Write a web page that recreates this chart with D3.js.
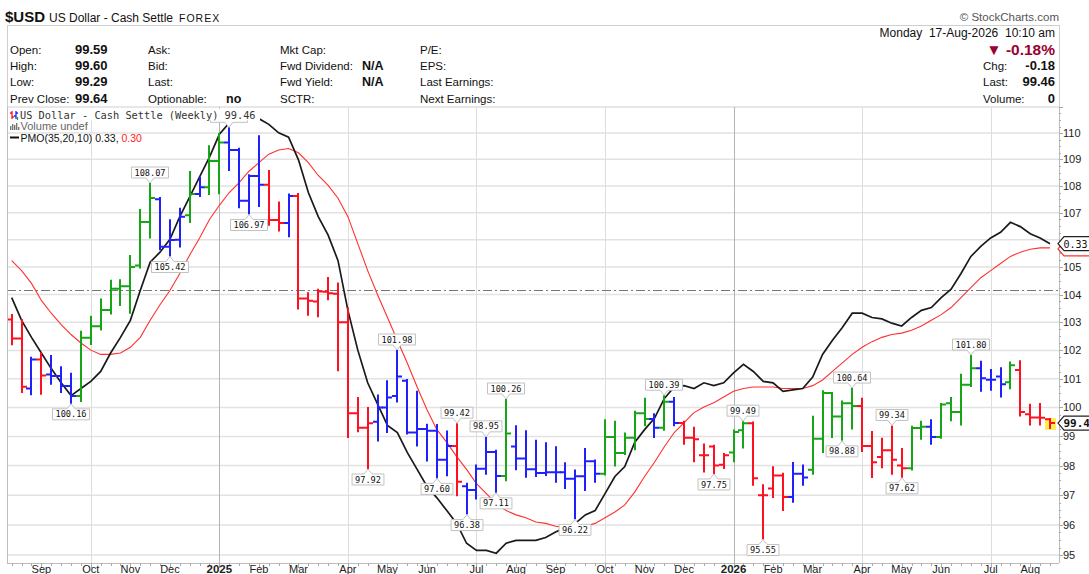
<!DOCTYPE html>
<html><head><meta charset="utf-8">
<script src="https://cdn.jsdelivr.net/npm/d3@7"></script>
<style>
body{margin:0;background:#fff}
svg{display:block;font-family:"Liberation Sans",Arial,sans-serif}
</style>
</head><body>
<svg id="c" width="1089" height="574"></svg>
<script>
// ---------------- DATA ----------------
const startWeek = new Date(2024, 7, 12);   // first weekly bar (Monday)
const endWeek   = new Date(2026, 7, 17);   // last weekly bar (Monday)

const openP = [103.10,102.42,100.66,101.68,101.15,101.10,100.75,100.40,102.45,102.86,
103.44,104.21,104.30,105.05,106.65,107.50,105.74,106.00,106.90,107.70,
107.95,108.94,109.64,109.35,107.44,108.37,108.04,106.73,106.62,107.62,
103.86,103.75,104.10,104.03,103.00,99.80,99.30,99.50,100.00,100.40,
100.93,99.13,99.25,99.19,98.20,98.67,97.30,97.17,97.89,98.46,
97.65,98.65,98.24,97.88,97.75,97.77,97.77,97.55,97.64,98.15,
97.72,98.98,98.43,98.95,99.80,99.60,99.30,100.20,99.46,98.95,
98.35,98.65,98.03,98.45,99.21,99.45,97.00,97.22,97.66,96.94,
97.72,97.86,98.92,100.50,99.69,100.15,100.05,98.67,98.29,98.52,
98.00,97.91,99.29,99.33,98.98,100.15,99.84,100.79,101.37,100.97,
101.08,100.88,101.31,99.76,99.65,99.59];

const highP = [103.26,103.08,101.74,101.89,101.80,101.41,101.18,102.66,103.20,103.82,
104.50,104.52,105.40,107.10,108.07,107.55,106.72,107.15,108.52,108.30,
109.50,109.96,110.18,109.40,108.40,109.88,108.56,107.38,107.68,107.70,
104.05,104.17,104.60,104.40,103.50,100.33,99.98,100.42,100.91,101.98,
100.96,100.55,99.40,99.39,99.17,99.42,97.38,98.00,98.95,98.51,
100.26,99.35,99.18,98.85,98.76,98.63,98.08,97.83,98.57,98.17,
99.56,99.50,99.10,99.85,100.30,99.76,100.39,100.33,99.50,99.30,
98.72,98.68,98.40,99.20,99.49,99.48,97.33,97.94,97.72,98.09,
98.00,99.68,100.56,100.50,100.21,100.64,100.30,99.15,98.92,99.34,
98.57,99.33,99.50,99.56,100.12,100.33,101.14,101.80,101.60,101.31,
101.37,101.57,101.62,100.09,100.12,99.60];

const lowP = [102.22,100.54,100.46,100.48,100.83,100.54,100.16,100.22,102.23,102.74,
103.32,103.62,103.34,104.98,106.08,105.65,105.42,105.75,106.65,107.62,
107.70,107.72,108.60,107.20,106.97,107.25,106.55,106.34,106.13,103.50,
103.27,103.22,103.83,101.30,98.98,99.18,97.92,98.86,99.15,100.21,
99.10,98.69,98.17,97.60,97.67,97.00,96.38,96.89,97.72,97.11,
97.50,97.88,97.62,97.65,97.68,97.45,97.24,96.22,97.17,97.45,
97.70,98.00,98.40,98.56,99.38,98.98,99.23,99.38,98.75,98.15,
97.80,97.75,97.92,98.15,98.62,97.35,95.55,96.94,96.50,96.78,
97.35,97.72,98.46,98.98,98.88,99.27,98.50,97.61,97.94,97.72,
97.62,97.87,98.92,98.75,98.95,99.56,99.41,100.75,100.58,100.62,
100.38,100.67,99.72,99.41,99.41,99.29];

const closeP = [102.42,100.72,101.68,101.12,101.10,100.75,100.40,102.45,102.86,103.44,
104.21,104.30,105.00,106.65,107.55,105.74,105.99,106.85,107.70,107.95,
108.94,109.64,109.35,107.44,108.37,108.04,106.73,106.62,107.62,103.86,
103.78,104.11,104.05,103.00,99.80,99.30,99.45,100.00,100.35,101.08,
99.13,99.25,99.19,98.20,98.67,97.45,97.17,97.89,98.46,97.65,
99.10,98.24,97.88,97.75,97.77,97.77,97.55,97.64,98.15,97.72,
98.98,98.43,98.95,99.80,99.60,99.30,100.20,99.46,98.95,98.90,
98.35,98.00,98.35,99.15,99.45,97.57,97.00,97.66,96.94,97.72,
97.60,98.92,100.50,99.69,100.15,100.05,98.67,98.11,98.52,98.20,
97.91,99.29,99.33,98.98,100.10,99.84,100.79,101.37,101.02,100.97,
100.81,101.48,99.84,99.65,99.64,99.46];

// Elder impulse state per bar: 1 = bullish, -1 = bearish, 0 = neutral
const impulse = [-1,-1,0,-1,0,0,0,1,1,1,
1,1,1,1,1,0,0,0,1,0,
1,1,0,0,0,0,-1,-1,0,-1,
-1,-1,-1,-1,-1,-1,-1,0,0,0,
0,0,0,0,0,-1,0,0,0,0,
1,0,0,0,0,0,0,0,0,0,
1,1,1,1,1,0,1,0,-1,-1,
-1,-1,-1,1,1,-1,-1,-1,-1,0,
0,1,1,1,1,1,-1,-1,-1,-1,
-1,1,1,0,1,1,1,1,0,0,
0,1,-1,-1,-1,-1];

const pmo = [-0.05,-0.21,-0.33,-0.44,-0.55,-0.65,-0.74,-0.69,-0.64,-0.57,
-0.44,-0.33,-0.21,0.00,0.20,0.27,0.36,0.52,0.66,0.80,
0.94,1.10,1.18,1.21,1.22,1.21,1.17,1.11,1.08,0.92,
0.69,0.52,0.39,0.21,-0.14,-0.42,-0.65,-0.80,-0.95,-1.00,
-1.14,-1.26,-1.38,-1.46,-1.55,-1.64,-1.78,-1.83,-1.83,-1.85,
-1.78,-1.76,-1.76,-1.76,-1.74,-1.70,-1.67,-1.64,-1.58,-1.55,
-1.43,-1.31,-1.24,-1.07,-0.98,-0.90,-0.76,-0.68,-0.67,-0.69,
-0.65,-0.67,-0.65,-0.58,-0.52,-0.57,-0.64,-0.65,-0.71,-0.70,
-0.69,-0.61,-0.45,-0.35,-0.26,-0.16,-0.16,-0.19,-0.20,-0.23,
-0.25,-0.19,-0.14,-0.12,-0.05,0.01,0.12,0.24,0.31,0.37,
0.41,0.48,0.45,0.40,0.37,0.33];

const pmoSignal = [0.21,0.14,0.05,-0.07,-0.16,-0.24,-0.31,-0.37,-0.42,-0.45,
-0.45,-0.44,-0.40,-0.33,-0.21,-0.10,0.00,0.12,0.25,0.37,
0.50,0.60,0.69,0.76,0.84,0.90,0.96,0.99,1.00,0.97,
0.90,0.81,0.74,0.65,0.52,0.33,0.14,-0.03,-0.19,-0.35,
-0.51,-0.68,-0.84,-0.98,-1.07,-1.17,-1.26,-1.36,-1.43,-1.50,
-1.55,-1.58,-1.60,-1.63,-1.64,-1.66,-1.67,-1.67,-1.66,-1.64,
-1.60,-1.56,-1.51,-1.42,-1.31,-1.21,-1.10,-1.00,-0.93,-0.86,
-0.82,-0.79,-0.75,-0.71,-0.69,-0.68,-0.68,-0.68,-0.69,-0.69,
-0.69,-0.67,-0.63,-0.57,-0.51,-0.45,-0.40,-0.36,-0.33,-0.31,
-0.30,-0.28,-0.25,-0.21,-0.17,-0.12,-0.05,0.02,0.09,0.14,
0.19,0.24,0.27,0.29,0.30,0.30];

const monthLabels = ["Sep","Oct","Nov","Dec","2025","Feb","Mar","Apr","May","Jun","Jul","Aug",
                     "Sep","Oct","Nov","Dec","2026","Feb","Mar","Apr","May","Jun","Jul","Aug"];
const priceTicks = [95,96,97,98,99,100,101,102,103,104,105,106,107,108,109,110];
const highLabelBars = [14,22,39,45,48,50,66,74,85,89,97];
const lowLabelBars  = [6,16,24,36,43,46,49,57,71,76,84,90];

const infoLeft = [
  ["Open:","99.59"],["High:","99.60"],["Low:","99.29"],["Prev Close:","99.64"]];
const infoCol2 = ["Ask:","Bid:","Last:","Optionable:"];
const infoCol3 = ["Mkt Cap:","Fwd Dividend:","Fwd Yield:","SCTR:"];
const infoCol4 = ["P/E:","EPS:","Last Earnings:","Next Earnings:"];
const infoRight = [["Chg:","-0.18"],["Last:","99.46"],["Volume:","0"]];

// ---------------- LAYOUT ----------------
const MONO = "'DejaVu Sans Mono', monospace";
const svg = d3.select("#c");
const L = 7, R = 1059, T = 107, B = 563;
const LEGEND_BOTTOM = 121;
const weeks = d3.timeMonday.range(startWeek, d3.timeDay.offset(endWeek, 1));
const HOUR = 36e5;
const x = d3.scaleTime()
  .domain([new Date(+startWeek - 80*HOUR), new Date(+endWeek + 153*HOUR)])
  .range([L, R]);
const y = d3.scaleLog().domain([94.74, 111.0]).range([B, T]);
const yP = d3.scaleLinear().domain([-2, 2]).range([290.5 + 284, 290.5 - 284]);
const colorOf = d3.scaleOrdinal().domain([1, 0, -1]).range(["#16a516", "#2020ff", "#ff1020"]);

// ---------------- HEADER ----------------
const hdr = svg.append("g");
hdr.append("text").attr("x", 5).attr("y", 22).attr("font-size", 15).attr("font-weight", "bold").attr("fill", "#111").text("$USD");
hdr.append("text").attr("x", 49).attr("y", 22).attr("font-size", 12).attr("fill", "#111").text("US Dollar - Cash Settle");
hdr.append("text").attr("x", 179).attr("y", 22).attr("font-size", 10.5).attr("letter-spacing", 1).attr("fill", "#111").text("FOREX");
hdr.append("text").attr("x", 1059).attr("y", 21).attr("text-anchor", "end").attr("font-size", 11.5).attr("fill", "#555").text("\u00A9 StockCharts.com");

hdr.append("rect").attr("x", L + 0.5).attr("y", 25.5).attr("width", R - L).attr("height", T - 25.5)
  .attr("fill", "none").attr("stroke", "#cfcfcf");

const rowY = [54, 70, 86, 103];
infoLeft.forEach((d, i) => {
  hdr.append("text").attr("x", 10).attr("y", rowY[i]).attr("font-size", 11.5).attr("fill", "#111").text(d[0]);
  hdr.append("text").attr("x", 75).attr("y", rowY[i]).attr("font-size", 13).attr("font-weight", "bold").attr("fill", "#111").text(d[1]);
});
infoCol2.forEach((d, i) => hdr.append("text").attr("x", 148).attr("y", rowY[i]).attr("font-size", 11.5).attr("fill", "#111").text(d));
hdr.append("text").attr("x", 226).attr("y", rowY[3]).attr("font-size", 12.5).attr("font-weight", "bold").attr("fill", "#111").text("no");
infoCol3.forEach((d, i) => hdr.append("text").attr("x", 280).attr("y", rowY[i]).attr("font-size", 11.5).attr("fill", "#111").text(d));
[1, 2].forEach(i => hdr.append("text").attr("x", 362).attr("y", rowY[i]).attr("font-size", 12.5).attr("font-weight", "bold").attr("fill", "#111").text("N/A"));
infoCol4.forEach((d, i) => hdr.append("text").attr("x", 420).attr("y", rowY[i]).attr("font-size", 11.5).attr("fill", "#111").text(d));

hdr.append("text").attr("x", 1055).attr("y", 37).attr("text-anchor", "end").attr("font-size", 12).attr("fill", "#111")
  .style("white-space", "pre").text("Monday  17-Aug-2026  10:10 am");
hdr.append("text").attr("x", 1055).attr("y", 55).attr("text-anchor", "end").attr("font-size", 15.5).attr("font-weight", "bold").attr("fill", "#990033").text("\u25BC -0.18%");
infoRight.forEach((d, i) => {
  hdr.append("text").attr("x", 983).attr("y", rowY[i + 1]).attr("font-size", 11.5).attr("fill", "#111").text(d[0]);
  hdr.append("text").attr("x", 1055).attr("y", rowY[i + 1]).attr("text-anchor", "end").attr("font-size", 13).attr("font-weight", "bold").attr("fill", "#111").text(d[1]);
});

// ---------------- GRID ----------------
const grid = svg.append("g");
priceTicks.forEach(p => {
  grid.append("line").attr("x1", L).attr("x2", R).attr("y1", y(p)).attr("y2", y(p))
    .attr("stroke", "#e2e2e2").attr("stroke-width", 1.5);
});
const monthStarts = weeks.filter(d => d.getDate() <= 7);
monthStarts.forEach(d => {
  const m = d.getMonth();
  if (m % 3 === 0) {
    const xx = Math.round(x(d)) + 0.5;
    grid.append("line").attr("x1", xx).attr("x2", xx).attr("y1", T).attr("y2", B)
      .attr("stroke", m === 0 ? "#b4b4b4" : "#dedede").attr("stroke-width", 1);
  }
});
grid.append("line").attr("x1", L).attr("x2", R).attr("y1", yP(0)).attr("y2", yP(0))
  .attr("stroke", "#777").attr("stroke-width", 1).attr("stroke-dasharray", "9,3,2,3");

svg.append("line").attr("x1", L + 0.5).attr("x2", L + 0.5).attr("y1", T).attr("y2", B).attr("stroke", "#bdbdbd");
svg.append("line").attr("x1", L).attr("x2", R).attr("y1", B + 0.5).attr("y2", B + 0.5).attr("stroke", "#bdbdbd");
svg.append("line").attr("x1", R + 0.5).attr("x2", R + 0.5).attr("y1", T).attr("y2", B).attr("stroke", "#bdbdbd");

svg.append("defs").append("clipPath").attr("id", "clip").append("rect")
  .attr("x", L + 1).attr("y", T).attr("width", R - L - 1).attr("height", B - T);
const plot = svg.append("g").attr("clip-path", "url(#clip)");

// ---------------- PMO LINES ----------------
const pmoLine = d3.line().x((d, i) => x(weeks[i])).y(d => yP(d));
plot.append("path").datum(pmoSignal).attr("d", pmoLine).attr("fill", "none").attr("stroke", "#ff3030").attr("stroke-width", 1.1);
plot.append("path").datum(pmo).attr("d", pmoLine).attr("fill", "none").attr("stroke", "#1a1a1a").attr("stroke-width", 1.7);

// ---------------- PRICE BARS ----------------
const last = weeks.length - 1;
plot.append("rect").attr("x", Math.round(x(weeks[last])) - 5).attr("y", y(highP[last]) - 1)
  .attr("width", 11).attr("height", y(lowP[last]) - y(highP[last]) + 3).attr("fill", "#ffee55");

const bars = plot.append("g").attr("stroke-width", 2).attr("fill", "none");
weeks.forEach((d, i) => {
  const cx = Math.round(x(d));
  bars.append("path")
    .attr("d", `M${cx},${y(highP[i]) - 1}V${y(lowP[i]) + 1}` +
               `M${cx - 5},${y(openP[i])}H${cx}` +
               `M${cx},${y(closeP[i])}H${cx + 5}`)
    .attr("stroke", colorOf(impulse[i]));
});

// ---------------- VALUE LABELS ----------------
const lab = svg.append("g");
function valueLabel(i, isHigh) {
  const cx = Math.round(x(weeks[i]));
  const v = isHigh ? highP[i] : lowP[i];
  const yy = y(v);
  const g = lab.append("g");
  const t = g.append("text").style("font-family", MONO).attr("font-size", 8.6)
    .attr("fill", "#111").attr("text-anchor", "middle").text(v.toFixed(2));
  const w = t.node().getComputedTextLength() + 6;
  const h = 11;
  const l = cx - w / 2, r = cx + w / 2;
  let d, top;
  if (isHigh) {
    const bot = yy - 6; top = bot - h;
    d = `M${l},${top}H${r}V${bot}H${cx + 4}L${cx},${yy - 1}L${cx - 4},${bot}H${l}Z`;
  } else {
    top = yy + 6; const bot = top + h;
    d = `M${l},${top}H${cx - 4}L${cx},${yy + 1}L${cx + 4},${top}H${r}V${bot}H${l}Z`;
  }
  t.attr("x", cx).attr("y", top + 8.6);
  // a label sitting under the legend line is covered by it in the source chart
  if (top + h < LEGEND_BOTTOM + 2) t.remove();
  g.insert("path", ":first-child").attr("d", d).attr("fill", "#fff").attr("stroke", "#c2c2c2").attr("stroke-width", 1);
}
highLabelBars.forEach(i => valueLabel(i, true));
lowLabelBars.forEach(i => valueLabel(i, false));

// ---------------- AXES ----------------
const ax = svg.append("g");
const markerYs = [yP(pmo[last]), yP(pmoSignal[last]), y(closeP[last])];
d3.range(95, 111.01, 0.25).forEach(p => {
  const yy = Math.round(y(p)) + 0.5;
  const major = Math.abs(p - Math.round(p)) < 1e-6;
  ax.append("line").attr("x1", R).attr("x2", R + (major ? 4 : 2)).attr("y1", yy).attr("y2", yy).attr("stroke", "#aaa");
});
priceTicks.forEach(p => {
  if (markerYs.some(m => Math.abs(m - y(p)) < 8)) return;
  ax.append("text").attr("x", 1063).attr("y", y(p) + 4).attr("font-size", 11).attr("fill", "#222").text(p);
});
weeks.forEach(d => {
  const xx = Math.round(x(d)) + 0.5;
  ax.append("line").attr("x1", xx).attr("x2", xx).attr("y1", B).attr("y2", B + (d.getDate() <= 7 ? 5 : 3)).attr("stroke", "#aaa");
});
monthStarts.forEach((d, i) => {
  const isYear = d.getMonth() === 0;
  ax.append("text").attr("x", x(d)).attr("y", 573).attr("text-anchor", "middle")
    .attr("font-size", isYear ? 11.5 : 11).attr("font-weight", isYear ? "bold" : "normal")
    .attr("fill", "#222").text(monthLabels[i]);
});

// ---------------- RIGHT MARKERS ----------------
function marker(v, yy, stroke, bold, col, fs) {
  const g = svg.append("g");
  g.append("path").attr("d", `M${R - 1},${yy}L${R + 5},${yy - 7}H1100V${yy + 7}H${R + 5}Z`)
    .attr("fill", "#fff").attr("stroke", stroke).attr("stroke-width", 1.2);
  if (v) g.append("text").attr("x", R + 4.5).attr("y", yy + 4).style("font-family", MONO)
    .attr("font-size", fs).attr("font-weight", bold ? "bold" : "normal").attr("fill", col).text(v);
}
marker("", yP(pmoSignal[last]) + 1, "#ff3030", false, "#ff3030", 10);
marker(pmo[last].toFixed(2), yP(pmo[last]), "#222", false, "#111", 10);
marker(closeP[last].toFixed(2), y(closeP[last]), "#222", true, "#111", 11);

// ---------------- LEGEND ----------------
const lg = svg.append("g");
lg.append("rect").attr("x", 20).attr("y", 108.5).attr("width", 240).attr("height", LEGEND_BOTTOM - 109).attr("fill", "#fff");
lg.append("path").attr("d", "M12,111V119M10,113H12M12,117H14").attr("stroke", "#ff1020").attr("stroke-width", 1.3).attr("fill", "none");
lg.append("path").attr("d", "M16,111V119M14,116H16M16,113H18").attr("stroke", "#2020ff").attr("stroke-width", 1.3).attr("fill", "none");
lg.append("path").attr("d", "M17.5,117V120").attr("stroke", "#16a516").attr("stroke-width", 1.3);
lg.append("text").attr("x", 20).attr("y", 118.5).style("font-family", MONO)
  .attr("font-size", 10.3).attr("fill", "#333").text("US Dollar - Cash Settle (Weekly) 99.46");
[[10, 4], [12, 6], [14, 5], [16, 7], [18, 3]].forEach(d => {
  lg.append("rect").attr("x", d[0]).attr("y", 130 - d[1]).attr("width", 1.4).attr("height", d[1]).attr("fill", "#777");
});
lg.append("text").attr("x", 20.5).attr("y", 130).attr("font-size", 11).attr("fill", "#666").text("Volume undef");
lg.append("line").attr("x1", 10).attr("x2", 19).attr("y1", 137.5).attr("y2", 137.5).attr("stroke", "#111").attr("stroke-width", 2);
const pt = lg.append("text").attr("x", 20.5).attr("y", 141.5).attr("font-size", 10.5).attr("fill", "#111");
pt.append("tspan").text("PMO(35,20,10) 0.33, ");
pt.append("tspan").attr("fill", "#ff2020").text("0.30");
</script>
</body></html>
